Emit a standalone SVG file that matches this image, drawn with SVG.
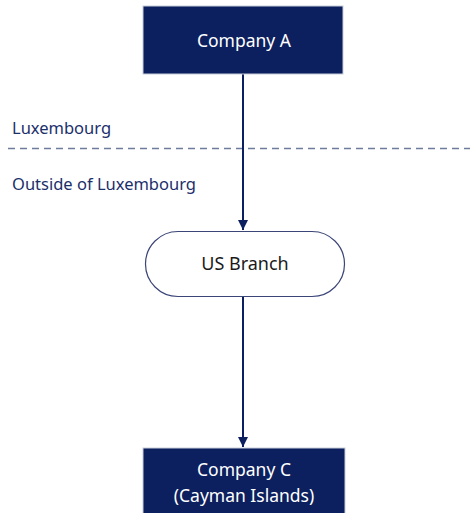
<svg xmlns="http://www.w3.org/2000/svg" width="470" height="513" viewBox="0 0 470 513">
<defs>
<style>
.box{fill:#0c1f5e;stroke:#c8cdd8;stroke-width:1}
.wt{fill:#ffffff;font-family:"Noto Sans","Open Sans",sans-serif;font-size:17.5px;text-anchor:middle}
.bt{fill:#1a1a1a;font-family:"Noto Sans","Open Sans",sans-serif;font-size:18px;text-anchor:middle}
.lbl{fill:#1b2f6b;font-family:"Noto Sans","Open Sans",sans-serif;font-size:16.5px}
.conn{stroke:#0c1f5e;stroke-width:2;fill:none}
</style>
<marker id="arr" viewBox="0 0 10 10" refX="10" refY="5" markerWidth="5" markerHeight="5" markerUnits="strokeWidth" orient="auto">
<path d="M0,0 L10,5 L0,10 z" fill="#0c1f5e"/>
</marker>
</defs>
<rect width="470" height="513" fill="#ffffff"/>
<g id="boundary">
<line x1="8" y1="148.5" x2="470" y2="148.5" stroke="#6d7b9c" stroke-width="1.5" stroke-dasharray="7,5"/>
<text class="lbl" x="12" y="134">Luxembourg</text>
<text class="lbl" x="12" y="190">Outside of Luxembourg</text>
</g>
<g id="connectors">
<line class="conn" x1="243" y1="74" x2="243" y2="230" marker-end="url(#arr)"/>
<line class="conn" x1="243" y1="297" x2="243" y2="447" marker-end="url(#arr)"/>
</g>
<g id="companyA">
<rect class="box" x="143" y="6" width="200" height="68"/>
<text class="wt" x="244" y="47">Company A</text>
</g>
<g id="usBranch">
<rect x="145.5" y="231.5" width="199" height="65" rx="32.5" fill="#ffffff" stroke="#3c4578" stroke-width="1.2"/>
<text class="bt" x="245" y="270">US Branch</text>
</g>
<g id="companyC">
<rect class="box" x="143" y="448" width="202" height="66"/>
<text class="wt" x="244" y="476">Company C</text>
<text class="wt" x="244" y="502">(Cayman Islands)</text>
</g>
</svg>
